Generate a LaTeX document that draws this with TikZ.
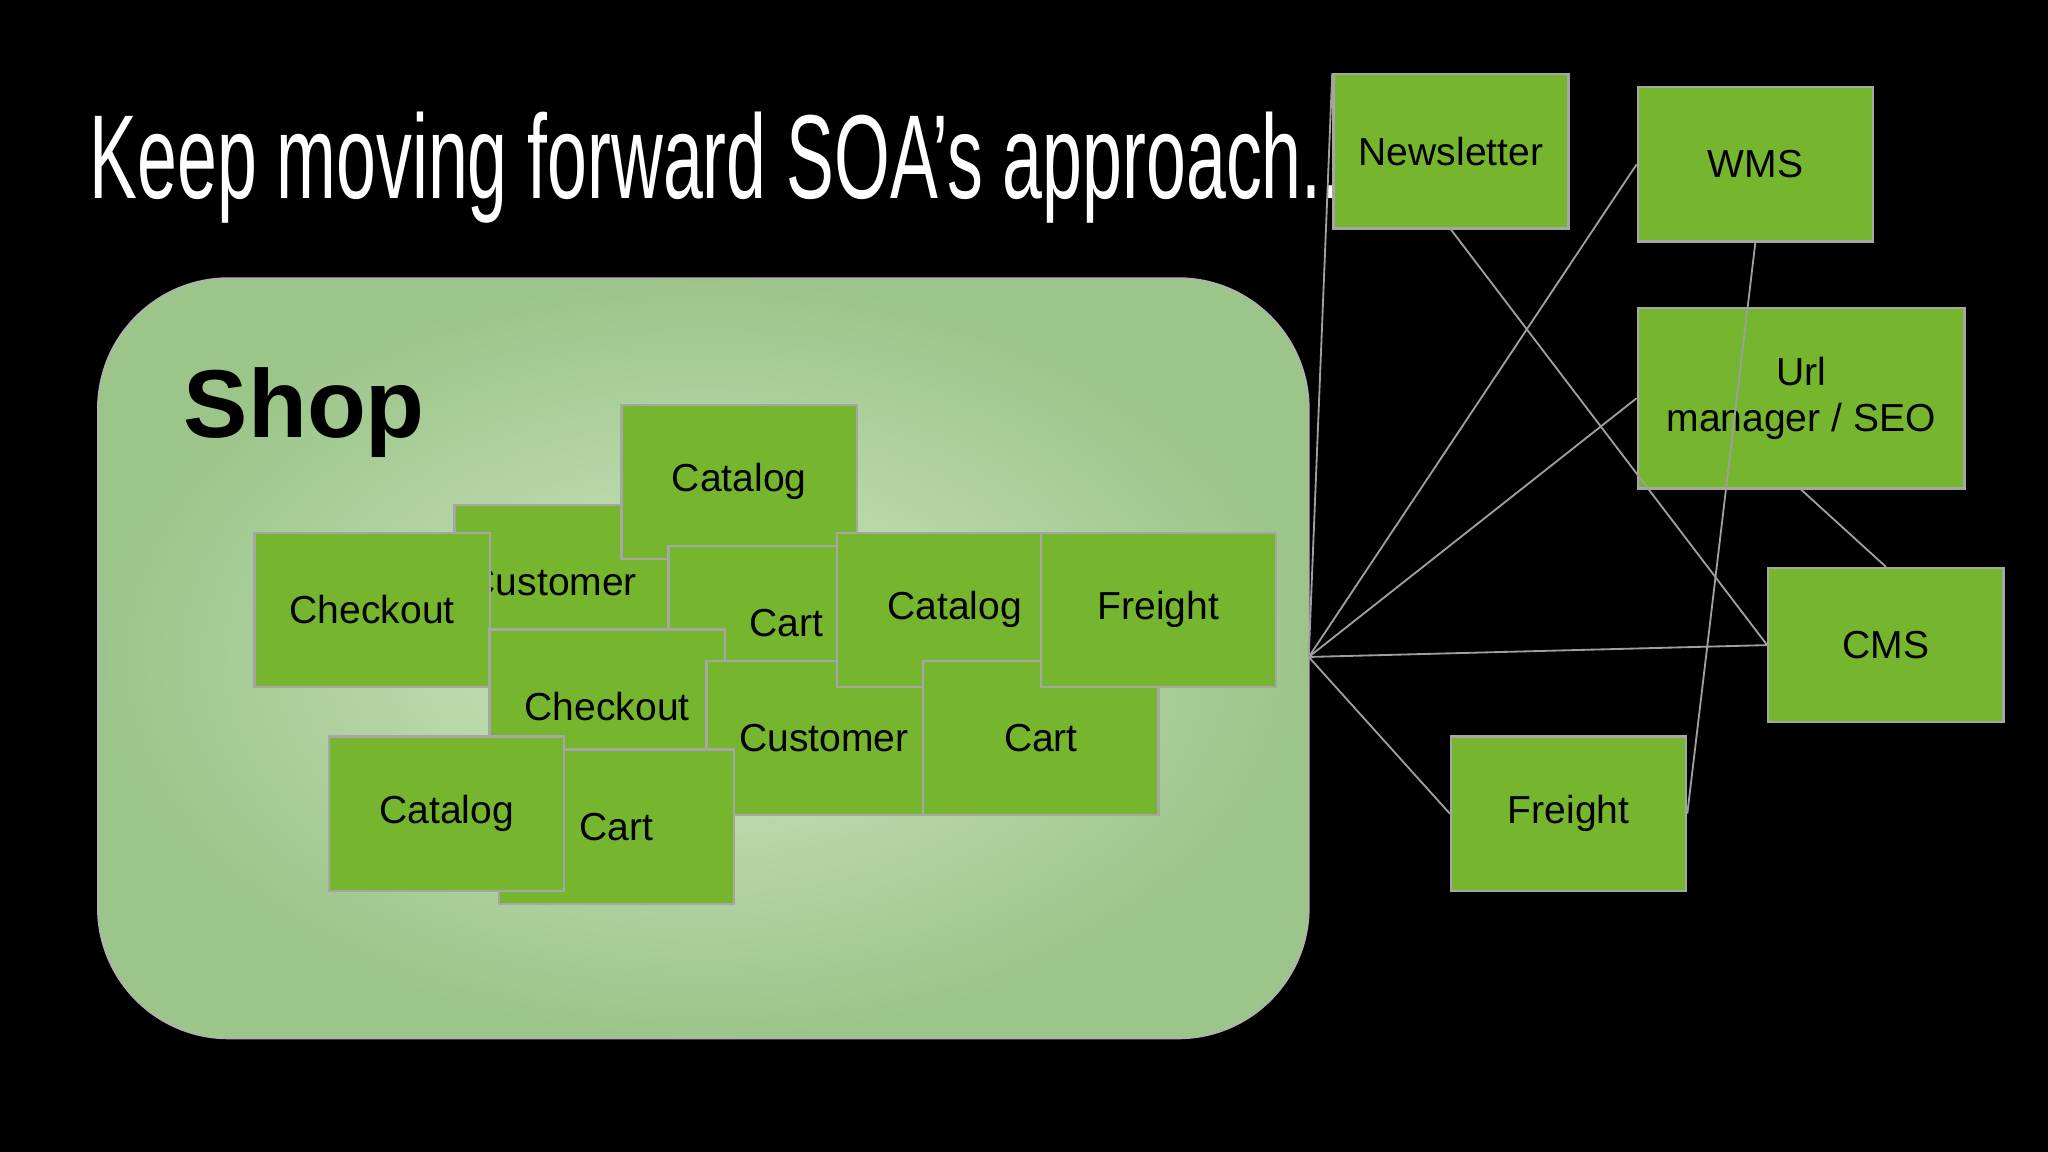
\documentclass[tikz,border=0pt]{standalone}
\usepackage{fontspec}
\setmainfont{Liberation Sans}
\begin{document}
\begin{tikzpicture}[x=0.01cm,y=-0.01cm,
  box/.style={draw=gray!70,line width=0.5pt,fill=boxg,minimum width=1.8cm,minimum height=1.18cm,anchor=north west,inner sep=0pt,font=\fontsize{8.5}{10}\selectfont,text=black},
  link/.style={draw=gray!75,line width=0.4pt}]
\definecolor{boxg}{HTML}{76B52E}
\definecolor{shopin}{HTML}{CDE6C2}
\definecolor{shopout}{HTML}{9CC58A}
\fill[black] (0,0) rectangle (1568,882);
\useasboundingbox (0,0) rectangle (1568,882);
\node[anchor=west,text=white,inner sep=0pt] (title) at (68,128) {\scalebox{0.6}[1]{\fontsize{26}{30}\selectfont Keep moving forward SOA’s approach...}};
\path[draw=gray!60,inner color=shopin,outer color=shopout,rounded corners=1cm] (75,213) rectangle (1002,795);
\node[anchor=west,inner sep=0pt,font=\bfseries\fontsize{21}{24}\selectfont] (shop) at (140,316) {Shop};
\node[box] (cu1) at (347,386) {\hspace*{-0.3cm}Customer};
\node[box] (ca1) at (475,309) {Catalog};
\node[box] (ch1) at (194,407) {Checkout};
\node[box] (ct1) at (511,417) {Cart};
\node[box] (ch2) at (374,481) {Checkout};
\node[box] (cu2) at (540,505) {Customer};
\node[box] (ca2) at (640,407) {Catalog};
\node[box] (ct2) at (706,505) {Cart};
\node[box] (fr1) at (796,407) {Freight};
\node[box] (ct3) at (381,573) {Cart};
\node[box] (ca3) at (251,563) {Catalog};
\node[box] (nl) at (1020,56) {Newsletter};
\node[box] (wms) at (1253,66) {WMS};
\node[box,minimum width=2.5cm,minimum height=1.38cm,align=center] (url) at (1253,235) {Url\\manager / SEO};
\node[box] (cms) at (1353,434) {CMS};
\node[box] (fr2) at (1110,563) {Freight};
\coordinate (hub) at (1002,503);
\draw[link] (hub) -- (nl.north west);
\draw[link] (hub) -- (wms.west);
\draw[link] (hub) -- (url.west);
\draw[link] (hub) -- (cms.west);
\draw[link] (hub) -- (fr2.west);
\draw[link] (nl.south) -- (cms.west);
\draw[link] (wms.south) -- (fr2.east);
\draw[link] (url.south) -- (cms.north);
\end{tikzpicture}
\end{document}
